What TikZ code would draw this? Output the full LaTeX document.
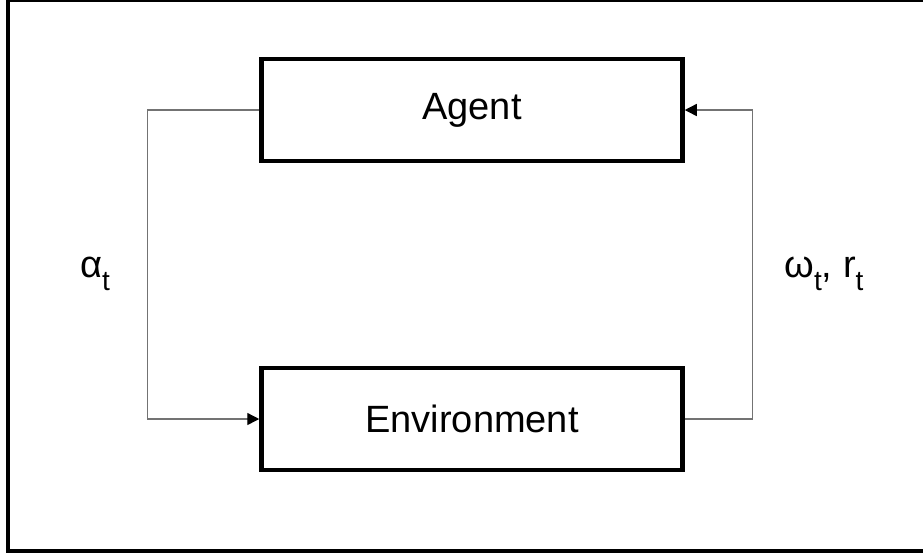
\documentclass[tikz,border=0pt]{standalone}
\usepackage{fontspec}
\setmainfont{Liberation Sans}
\usetikzlibrary{arrows.meta}
\newcommand{\lowsub}[1]{\raisebox{-6.5pt}{\fontsize{14}{14}\selectfont #1}}

\begin{document}
\begin{tikzpicture}[x=0.5pt, y=-0.5pt, font=\fontsize{19}{23}\selectfont,
	block/.style={draw, line width=2.25pt, minimum width=210.5pt, minimum height=51pt, inner sep=0pt},
	link/.style={draw=black!55, line width=0.7pt, -{Triangle[length=6pt,width=6pt,color=black]}},
	sigtext/.style={anchor=base, inner sep=0pt}]

\clip (0,0) rectangle (923,554);
\useasboundingbox (0,0) rectangle (923,554);
\draw[line width=2pt] (8,0) rectangle (940,550.5);

\node[block] (agent) at (472,110) {Agent};
\node[block] (env) at (472,419) {Environment};

\draw[link] (agent.west) -- ++(-112,0) |- (env.west);
\draw[link] (env.east) -- ++(68,0) |- (agent.east);

\node[sigtext] (action) at (95,277) {α\lowsub{t}};
\node[sigtext] (obs) at (824,277) {ω\lowsub{t}, r\lowsub{t}};
\end{tikzpicture}
\end{document}
